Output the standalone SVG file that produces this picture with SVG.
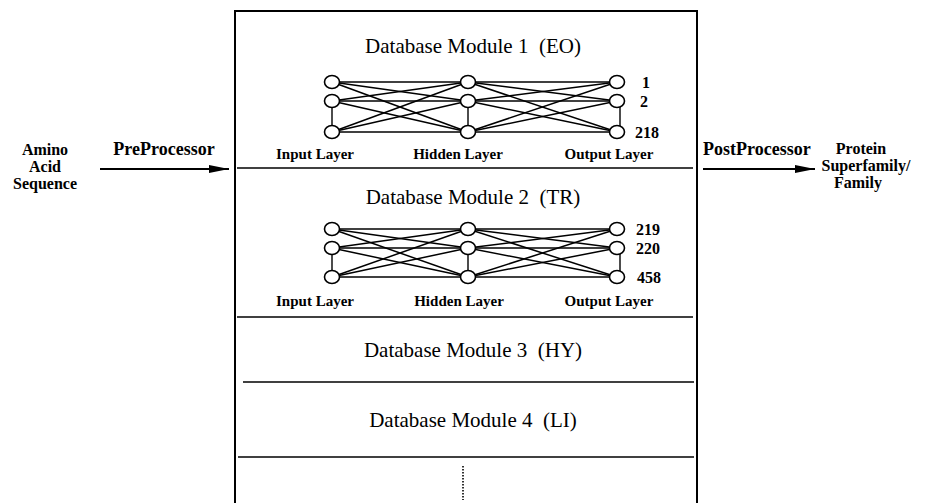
<svg xmlns="http://www.w3.org/2000/svg" width="944" height="503" viewBox="0 0 944 503">
  <defs>
    <marker id="arrow" viewBox="0 0 20 10" refX="20" refY="5" markerWidth="20" markerHeight="10" markerUnits="userSpaceOnUse" orient="auto">
      <path d="M0,1 L20,5 L0,9 Z" fill="#000"/>
    </marker>
  </defs>
  <style>
    text { font-family: "Liberation Serif", "Times New Roman", serif; fill: #000; }
    .side { font-size: 16px; font-weight: bold; text-anchor: middle; }
    .proc { font-size: 18px; font-weight: bold; }
    .title { font-size: 21px; text-anchor: middle; white-space: pre; }
    .layer { font-size: 15px; font-weight: bold; text-anchor: middle; }
    .num { font-size: 16px; font-weight: bold; }
    .frame { fill: none; stroke: #000; stroke-width: 2; }
    .sep { stroke: #000; stroke-width: 1.6; }
    .edge { stroke: #000; stroke-width: 1.5; }
    .link { stroke: #000; stroke-width: 1.4; }
    .neuron { fill: #fff; stroke: #000; stroke-width: 1.6; }
    .conn { stroke: #000; stroke-width: 2; fill: none; }
    .dots { stroke: #000; stroke-width: 1.6; stroke-dasharray: 1.5 1.5; }
  </style>

  <!-- input description -->
  <g id="amino-acid-sequence">
    <text class="side" x="45" y="155">Amino</text>
    <text class="side" x="45" y="172">Acid</text>
    <text class="side" x="45" y="189">Sequence</text>
  </g>

  <!-- output description -->
  <g id="protein-family">
    <text class="side" x="861" y="154">Protein</text>
    <text class="side" x="866" y="171">Superfamily/</text>
    <text class="side" x="858" y="188">Family</text>
  </g>

  <!-- processing arrows -->
  <g id="connectors">
    <g id="preprocessor">
      <text class="proc" x="164" y="155" text-anchor="middle">PreProcessor</text>
      <line class="conn" x1="100" y1="169" x2="229" y2="169" marker-end="url(#arrow)"/>
    </g>
    <g id="postprocessor">
      <text class="proc" x="703" y="155">PostProcessor</text>
      <line class="conn" x1="703" y1="169" x2="815" y2="169" marker-end="url(#arrow)"/>
    </g>
  </g>

  <!-- database container, open at the bottom -->
  <g id="database">
    <path class="frame" d="M235,504 V11 H697 V504"/>
    <line class="sep" x1="237" y1="168" x2="693" y2="168"/>
    <line class="sep" x1="237" y1="317" x2="693" y2="317"/>
    <line class="sep" x1="243" y1="382" x2="694" y2="382"/>
    <line class="sep" x1="238" y1="457" x2="694" y2="457"/>
  </g>

  <!-- module 1 -->
  <g id="module-1">
    <text class="title" x="473" y="53">Database Module 1  (EO)</text>
    <g>
      <line class="edge" x1="332" y1="82" x2="468" y2="82"/>
      <line class="edge" x1="332" y1="82" x2="468" y2="101"/>
      <line class="edge" x1="332" y1="82" x2="468" y2="132"/>
      <line class="edge" x1="332" y1="101" x2="468" y2="82"/>
      <line class="edge" x1="332" y1="101" x2="468" y2="101"/>
      <line class="edge" x1="332" y1="101" x2="468" y2="132"/>
      <line class="edge" x1="332" y1="132" x2="468" y2="82"/>
      <line class="edge" x1="332" y1="132" x2="468" y2="101"/>
      <line class="edge" x1="332" y1="132" x2="468" y2="132"/>
      <line class="edge" x1="468" y1="82" x2="617" y2="82"/>
      <line class="edge" x1="468" y1="82" x2="617" y2="101"/>
      <line class="edge" x1="468" y1="82" x2="617" y2="132"/>
      <line class="edge" x1="468" y1="101" x2="617" y2="82"/>
      <line class="edge" x1="468" y1="101" x2="617" y2="101"/>
      <line class="edge" x1="468" y1="101" x2="617" y2="132"/>
      <line class="edge" x1="468" y1="132" x2="617" y2="82"/>
      <line class="edge" x1="468" y1="132" x2="617" y2="101"/>
      <line class="edge" x1="468" y1="132" x2="617" y2="132"/>
      <line class="link" x1="332" y1="101" x2="332" y2="132"/>
      <line class="link" x1="468" y1="101" x2="468" y2="132"/>
      <line class="link" x1="620" y1="101" x2="620" y2="132"/>
    </g>
    <ellipse class="neuron" cx="332" cy="82" rx="7.5" ry="6.5"/>
    <ellipse class="neuron" cx="332" cy="101" rx="7.5" ry="6.5"/>
    <ellipse class="neuron" cx="332" cy="132" rx="7.5" ry="6.5"/>
    <ellipse class="neuron" cx="468" cy="82" rx="7.5" ry="6.5"/>
    <ellipse class="neuron" cx="468" cy="101" rx="7.5" ry="6.5"/>
    <ellipse class="neuron" cx="468" cy="132" rx="7.5" ry="6.5"/>
    <ellipse class="neuron" cx="617" cy="82" rx="7.5" ry="6.5"/>
    <ellipse class="neuron" cx="617" cy="101" rx="7.5" ry="6.5"/>
    <ellipse class="neuron" cx="617" cy="132" rx="7.5" ry="6.5"/>
    <text class="num" x="642" y="88">1</text>
    <text class="num" x="640" y="107">2</text>
    <text class="num" x="635" y="138">218</text>
    <text class="layer" x="315" y="159">Input Layer</text>
    <text class="layer" x="458" y="159">Hidden Layer</text>
    <text class="layer" x="609" y="159">Output Layer</text>
  </g>

  <!-- module 2 -->
  <g id="module-2">
    <text class="title" x="473" y="204">Database Module 2  (TR)</text>
    <g>
      <line class="edge" x1="332" y1="229" x2="468" y2="229"/>
      <line class="edge" x1="332" y1="229" x2="468" y2="248"/>
      <line class="edge" x1="332" y1="229" x2="468" y2="277"/>
      <line class="edge" x1="332" y1="248" x2="468" y2="229"/>
      <line class="edge" x1="332" y1="248" x2="468" y2="248"/>
      <line class="edge" x1="332" y1="248" x2="468" y2="277"/>
      <line class="edge" x1="332" y1="277" x2="468" y2="229"/>
      <line class="edge" x1="332" y1="277" x2="468" y2="248"/>
      <line class="edge" x1="332" y1="277" x2="468" y2="277"/>
      <line class="edge" x1="468" y1="229" x2="617" y2="229"/>
      <line class="edge" x1="468" y1="229" x2="617" y2="248"/>
      <line class="edge" x1="468" y1="229" x2="617" y2="277"/>
      <line class="edge" x1="468" y1="248" x2="617" y2="229"/>
      <line class="edge" x1="468" y1="248" x2="617" y2="248"/>
      <line class="edge" x1="468" y1="248" x2="617" y2="277"/>
      <line class="edge" x1="468" y1="277" x2="617" y2="229"/>
      <line class="edge" x1="468" y1="277" x2="617" y2="248"/>
      <line class="edge" x1="468" y1="277" x2="617" y2="277"/>
      <line class="link" x1="332" y1="248" x2="332" y2="277"/>
      <line class="link" x1="468" y1="248" x2="468" y2="277"/>
      <line class="link" x1="620" y1="248" x2="620" y2="277"/>
    </g>
    <ellipse class="neuron" cx="332" cy="229" rx="7.5" ry="6.5"/>
    <ellipse class="neuron" cx="332" cy="248" rx="7.5" ry="6.5"/>
    <ellipse class="neuron" cx="332" cy="277" rx="7.5" ry="6.5"/>
    <ellipse class="neuron" cx="468" cy="229" rx="7.5" ry="6.5"/>
    <ellipse class="neuron" cx="468" cy="248" rx="7.5" ry="6.5"/>
    <ellipse class="neuron" cx="468" cy="277" rx="7.5" ry="6.5"/>
    <ellipse class="neuron" cx="617" cy="229" rx="7.5" ry="6.5"/>
    <ellipse class="neuron" cx="617" cy="248" rx="7.5" ry="6.5"/>
    <ellipse class="neuron" cx="617" cy="277" rx="7.5" ry="6.5"/>
    <text class="num" x="636" y="235">219</text>
    <text class="num" x="636" y="254">220</text>
    <text class="num" x="637" y="283">458</text>
    <text class="layer" x="315" y="306">Input Layer</text>
    <text class="layer" x="459" y="306">Hidden Layer</text>
    <text class="layer" x="609" y="306">Output Layer</text>
  </g>

  <!-- module 3 -->
  <g id="module-3">
    <text class="title" x="473" y="357">Database Module 3  (HY)</text>
  </g>

  <!-- module 4 -->
  <g id="module-4">
    <text class="title" x="473" y="427">Database Module 4  (LI)</text>
  </g>

  <!-- further modules -->
  <g id="more-modules">
    <line class="dots" x1="463" y1="466" x2="463" y2="500"/>
  </g>
</svg>
